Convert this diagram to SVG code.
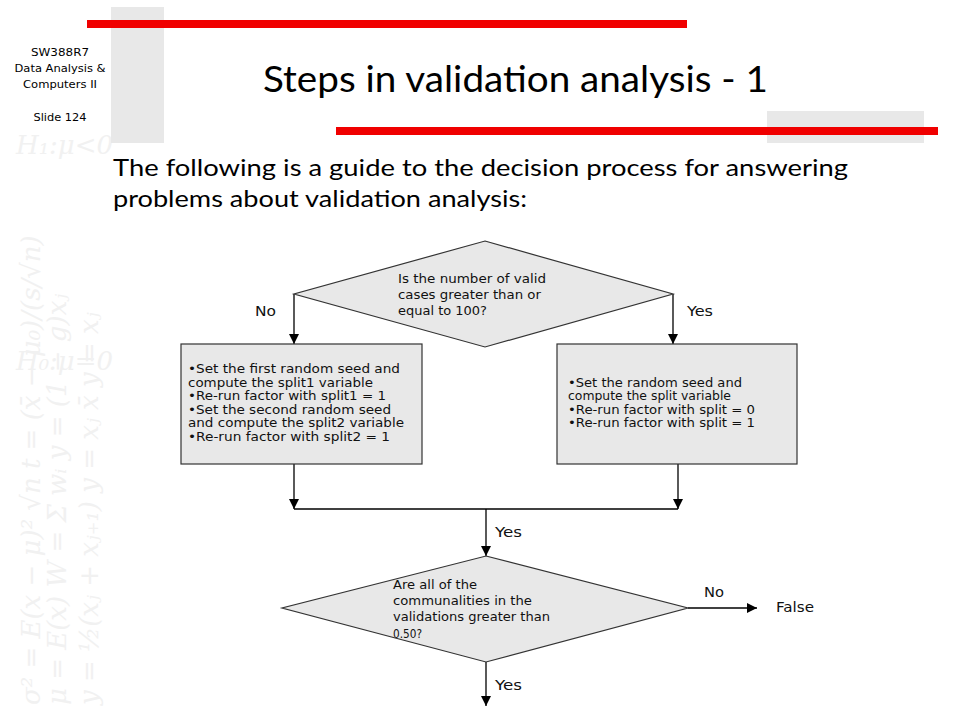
<svg xmlns="http://www.w3.org/2000/svg" width="960" height="720" viewBox="0 0 960 720">
<defs>
<style>
.side{font-family:"DejaVu Sans Condensed",Tahoma,"DejaVu Sans",sans-serif;font-size:11px;fill:#000;text-anchor:middle}
.title{font-family:Lato,"Liberation Sans",sans-serif;font-size:36px;fill:#000}
.body{font-family:Lato,"Liberation Sans",sans-serif;font-size:23px;fill:#000}
.shape{fill:#e8e8e8;stroke:#333;stroke-width:1.2}
.t{font-family:Verdana,"DejaVu Sans",sans-serif;font-size:12px;fill:#111}
.lbl{font-family:Tahoma,"DejaVu Sans",sans-serif;font-size:14px;fill:#111}
.wm{font-family:"DejaVu Serif","Liberation Serif",serif;font-size:26px;fill:#f1f1f1;font-style:italic}
.line{stroke:#000;stroke-width:1.3;fill:none}
</style>
<marker id="ah" viewBox="0 0 10 10" refX="10" refY="5" markerWidth="10" markerHeight="10" markerUnits="userSpaceOnUse" orient="auto">
<path d="M0,0 L10,5 L0,10 z" fill="#000"/>
</marker>
</defs>
<rect width="960" height="720" fill="#fff"/>
<g id="watermark">
<text class="wm" x="16" y="154" font-style="normal">H₁:μ&lt;0</text>
<text class="wm" x="16" y="370" font-style="normal">H₀:μ=0</text>
<text class="wm" transform="translate(40,705) rotate(-90)">σ² = E(x − μ)²  √n  t = (x̄ − μ₀)/(s/√n)</text>
<text class="wm" transform="translate(66,705) rotate(-90)">μ = E(x)  W = Σ wᵢ   y = (1 − g)xⱼ</text>
<text class="wm" transform="translate(98,705) rotate(-90)">y = ½(xⱼ + xⱼ₊₁)  y = xⱼ  x̄  y = xⱼ</text>
</g>
<g id="decor">
<rect x="111" y="7" width="53" height="136" fill="#e8e8e8"/>
<rect x="767" y="111" width="157" height="32" fill="#e8e8e8"/>
<rect x="87" y="20" width="600" height="8" fill="#f00000"/>
<rect x="336" y="127" width="602" height="8" fill="#f00000"/>
</g>
<g id="header">
<text class="side" x="60" y="56" textLength="58" lengthAdjust="spacingAndGlyphs">SW388R7</text>
<text class="side" x="60" y="72" textLength="91" lengthAdjust="spacingAndGlyphs">Data Analysis &amp;</text>
<text class="side" x="60" y="88" textLength="74" lengthAdjust="spacingAndGlyphs">Computers II</text>
<text class="side" x="60" y="121" textLength="53" lengthAdjust="spacingAndGlyphs">Slide 124</text>
<text class="title" x="263" y="92" textLength="505" lengthAdjust="spacingAndGlyphs">Steps in validation analysis - 1</text>
<text class="body" x="113" y="176" textLength="735" lengthAdjust="spacingAndGlyphs">The following is a guide to the decision process for answering</text>
<text class="body" x="113" y="207" textLength="414" lengthAdjust="spacingAndGlyphs">problems about validation analysis:</text>
</g>
<g id="connectors">
<path class="line" d="M294,294 V344" marker-end="url(#ah)"/>
<path class="line" d="M673,294 V344" marker-end="url(#ah)"/>
<path class="line" d="M294,464 V509" marker-end="url(#ah)"/>
<path class="line" d="M678,464 V509" marker-end="url(#ah)"/>
<path class="line" d="M294,509 H678"/>
<path class="line" d="M486,509 V556" marker-end="url(#ah)"/>
<path class="line" d="M486,662 V706" marker-end="url(#ah)"/>
<path class="line" d="M688,608 H757" marker-end="url(#ah)"/>
<text class="lbl" x="255" y="316" textLength="21" lengthAdjust="spacingAndGlyphs">No</text>
<text class="lbl" x="687" y="316" textLength="26" lengthAdjust="spacingAndGlyphs">Yes</text>
<text class="lbl" x="495" y="537" textLength="27" lengthAdjust="spacingAndGlyphs">Yes</text>
<text class="lbl" x="495" y="690" textLength="27" lengthAdjust="spacingAndGlyphs">Yes</text>
<text class="lbl" x="704" y="597" textLength="20" lengthAdjust="spacingAndGlyphs">No</text>
</g>
<g id="decision1">
<polygon class="shape" points="485,241 673,294 485,347 294,294"/>
<text class="t" x="398" y="283" textLength="148" lengthAdjust="spacingAndGlyphs">Is the number of valid</text>
<text class="t" x="398" y="299" textLength="143" lengthAdjust="spacingAndGlyphs">cases greater than or</text>
<text class="t" x="398" y="315" textLength="89" lengthAdjust="spacingAndGlyphs">equal to 100?</text>
</g>
<g id="box1">
<rect class="shape" x="181" y="344" width="241" height="120"/>
<text class="t" x="188" y="373" textLength="212" lengthAdjust="spacingAndGlyphs">•Set the first random seed and</text>
<text class="t" x="188" y="387" textLength="185" lengthAdjust="spacingAndGlyphs">compute the split1  variable</text>
<text class="t" x="188" y="400" textLength="198" lengthAdjust="spacingAndGlyphs">•Re-run factor with split1 = 1</text>
<text class="t" x="188" y="414" textLength="203" lengthAdjust="spacingAndGlyphs">•Set the second random seed</text>
<text class="t" x="188" y="427" textLength="216" lengthAdjust="spacingAndGlyphs">and compute the split2 variable</text>
<text class="t" x="188" y="441" textLength="202" lengthAdjust="spacingAndGlyphs">•Re-run factor with split2 = 1</text>
</g>
<g id="box2">
<rect class="shape" x="557" y="344" width="240" height="120"/>
<text class="t" x="568" y="387" textLength="174" lengthAdjust="spacingAndGlyphs">•Set the random seed and</text>
<text class="t" x="568" y="400" textLength="163" lengthAdjust="spacingAndGlyphs">compute the split variable</text>
<text class="t" x="568" y="414" textLength="187" lengthAdjust="spacingAndGlyphs">•Re-run factor with split = 0</text>
<text class="t" x="568" y="427" textLength="187" lengthAdjust="spacingAndGlyphs">•Re-run factor with split = 1</text>
</g>
<g id="decision2">
<polygon class="shape" points="486,556 688,608 486,662 282,608"/>
<text class="t" x="393" y="589" textLength="84" lengthAdjust="spacingAndGlyphs">Are all of the</text>
<text class="t" x="393" y="605" textLength="139" lengthAdjust="spacingAndGlyphs">communalities in the</text>
<text class="t" x="393" y="621" textLength="157" lengthAdjust="spacingAndGlyphs">validations greater than</text>
<text class="t" x="393" y="638" textLength="29" lengthAdjust="spacingAndGlyphs">0.50?</text>
</g>
<g id="false">
<text class="lbl" x="776" y="612" textLength="38" lengthAdjust="spacingAndGlyphs">False</text>
</g>
</svg>
